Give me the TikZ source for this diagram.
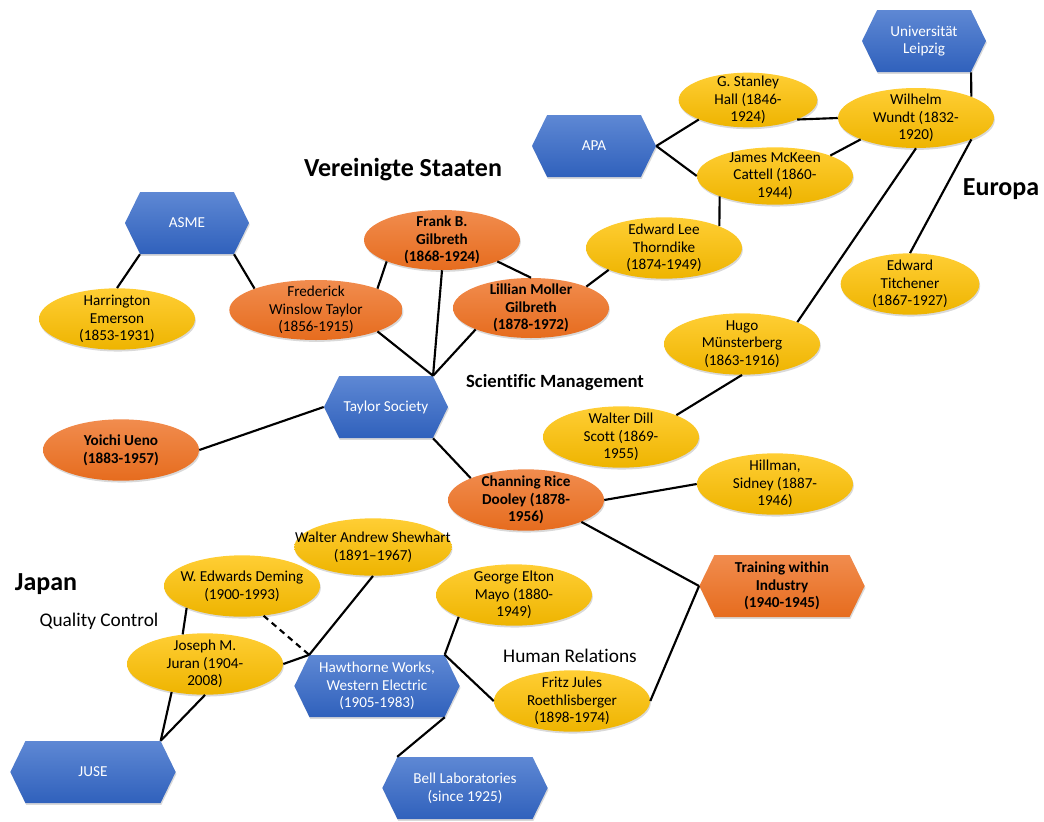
\documentclass[tikz,border=0pt]{standalone}
\usepackage{fontspec}
\setmainfont[Ligatures=NoCommon]{Carlito}
\usetikzlibrary{shapes.geometric,shapes.symbols,shadows}
\definecolor{yellowtop}{RGB}{255,206,52}
\definecolor{yellowbot}{RGB}{238,180,0}
\definecolor{orangetop}{RGB}{241,140,78}
\definecolor{orangebot}{RGB}{230,108,30}
\definecolor{bluetop}{RGB}{94,136,212}
\definecolor{bluebot}{RGB}{48,97,188}
\tikzset{base node/.style={align=center,font=\fontsize{11.4}{13.3}\selectfont,
    drop shadow={opacity=0.3,shadow xshift=0.6pt,shadow yshift=-1.4pt}},
  orange fill/.style={top color=orangetop,bottom color=orangebot},
  strong/.style={font=\bfseries\fontsize{11.4}{13.3}\selectfont},
  person node/.style={base node,ellipse,minimum width=117pt,minimum height=46pt,
    inner xsep=-25pt,inner ysep=-8pt,top color=yellowtop,bottom color=yellowbot},
  lead node/.style={person node,orange fill,strong},
  org node/.style={base node,signal,signal to=east and west,signal pointer angle=128,
    minimum width=93pt,minimum height=46.5pt,inner sep=0pt,
    top color=bluetop,bottom color=bluebot,text=white},
  big org node/.style={org node,minimum width=124pt},
  link/.style={line width=1.6pt},
  area label/.style={anchor=base,font=\bfseries\fontsize{19.5}{22}\selectfont},
  field label/.style={anchor=base,font=\fontsize{14.5}{17}\selectfont},
}

\begin{document}
\begin{tikzpicture}[x=0.75pt,y=-0.75pt]
	\useasboundingbox (0,0) rectangle (1044,821);
	% Europa
	\node[org node] (leipzig) at (924,41) {Universität\\Leipzig};
	\node[person node,minimum width=104pt,minimum height=41pt] (hall) at (748,100) {G. Stanley\\Hall (1846-\\1924)};
	\node[person node,minimum height=45pt] (wundt) at (916,118) {Wilhelm\\Wundt (1832-\\1920)};
	\node[org node] (apa) at (594,146) {APA};
	\node[person node,minimum height=43pt] (cattell) at (775,176) {James McKeen\\Cattell (1860-\\1944)};
	\node[person node] (thorndike) at (664,248) {Edward Lee\\Thorndike\\(1874-1949)};
	\node[person node,minimum width=104pt] (titchener) at (910,284) {Edward\\Titchener\\(1867-1927)};
	\node[person node] (muensterberg) at (742,344) {Hugo\\Münsterberg\\(1863-1916)};
	\node[person node] (scott) at (621,437) {Walter Dill\\Scott (1869-\\1955)};
	\node[person node] (hillman) at (775,484) {Hillman,\\Sidney (1887-\\1946)};
	% Vereinigte Staaten
	\node[org node] (asme) at (187,223) {ASME};
	\node[person node] (harrington) at (117,319) {Harrington\\Emerson\\(1853-1931)};
	\node[person node,orange fill,minimum width=130pt,minimum height=45pt] (taylor) at (316,310) {Frederick\\Winslow Taylor\\(1856-1915)};
	\node[lead node,minimum height=45pt] (frank) at (442,240) {Frank B.\\Gilbreth\\(1868-1924)};
	\node[lead node,minimum height=45pt] (lillian) at (531,308) {Lillian Moller\\Gilbreth\\(1878-1972)};
	\node[org node] (tsociety) at (386,407) {Taylor Society};
	\node[lead node] (yoichi) at (121,450) {Yoichi Ueno\\(1883-1957)};
	\node[lead node] (dooley) at (526,500) {Channing Rice\\Dooley (1878-\\1956)};
	\node[big org node,orange fill,text=black,strong] (twi) at (782,586) {Training within\\Industry\\(1940-1945)};
	% Japan
	\node[person node,minimum width=118pt,minimum height=43pt] (shewhart) at (373,547) {Walter Andrew Shewhart\\(1891–1967)};
	\node[person node] (deming) at (242,586) {W. Edwards Deming\\(1900-1993)};
	\node[person node] (juran) at (205,664) {Joseph M.\\Juran (1904-\\2008)};
	\node[person node] (mayo) at (514,595) {George Elton\\Mayo (1880-\\1949)};
	\node[person node] (fritz) at (572,701) {Fritz Jules\\Roethlisberger\\(1898-1974)};
	\node[big org node] (hawthorne) at (377,686) {Hawthorne Works,\\Western Electric\\(1905-1983)};
	\node[big org node] (juse) at (93,772) {JUSE};
	\node[big org node] (bell) at (465,788) {Bell Laboratories\\(since 1925)};

	\node[area label] (usa) at (403,176) {Vereinigte Staaten};
	\node[area label] (europe) at (1001,195) {Europa};
	\node[area label] (japan) at (46,590) {Japan};
	\node[anchor=base,font=\bfseries\fontsize{14}{17}\selectfont] (sm) at (555,387) {Scientific Management};
	\node[field label] (qc) at (99,626) {Quality Control};
	\node[field label] (hr) at (570,662) {Human Relations};

	\path[draw,link]
	(leipzig.south east) edge (wundt.north east)
	(hall.south east) edge (wundt.west)
	(apa.east) edge (hall.south west)
	(apa.east) edge (cattell.west)
	(cattell.north east) edge (wundt.south west)
	(cattell.south west) edge (thorndike.north east)
	(thorndike.south west) edge (lillian.north east)
	(wundt.south) edge (muensterberg.north east)
	(wundt.south east) edge (titchener.north)
	(muensterberg.south) edge (scott.north east)
	(asme.south west) edge (harrington.north)
	(asme.south east) edge (taylor.north west)
	(taylor.north east) edge (frank.south west)
	(frank.south east) edge (lillian.north)
	(taylor.south east) edge (tsociety.north east)
	(frank.south) edge (tsociety.north east)
	(lillian.south west) edge (tsociety.north east)
	(tsociety.west) edge (yoichi.east)
	(tsociety.south east) edge (dooley.north west)
	(dooley.east) edge (hillman.west)
	(dooley.south east) edge (twi.west)
	(twi.west) edge (fritz.east)
	(mayo.south west) edge (hawthorne.north east)
	(hawthorne.north east) edge (fritz.west)
	(shewhart.south) edge (hawthorne.north west)
	(juran.east) edge (hawthorne.north west)
	(deming.-54) edge[dash pattern=on 4.5pt off 3.5pt] (hawthorne.north west)
	(deming.south west) edge (juran.127)
	(juran.-140) edge (juse.north east)
	(juran.south) edge (juse.north east)
	(hawthorne.south east) edge (bell.north west);
\end{tikzpicture}
\end{document}
